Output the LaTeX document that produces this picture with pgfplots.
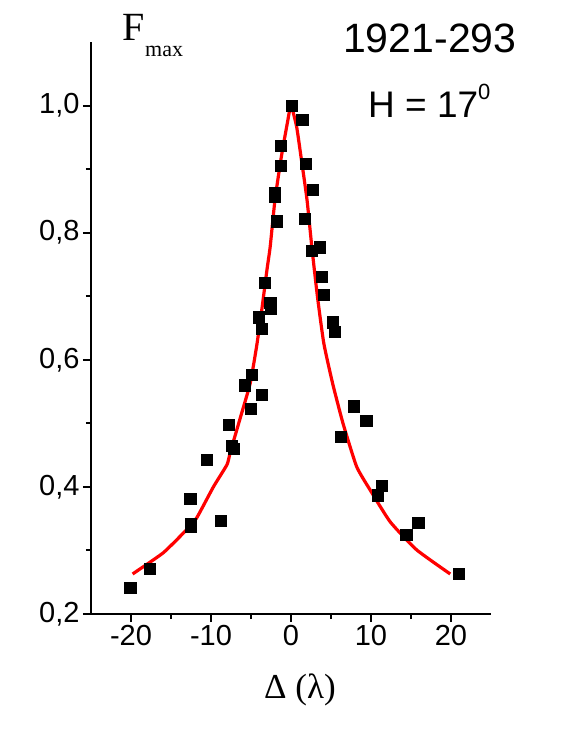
\documentclass[border=0pt]{standalone}
\usepackage{fontspec}
\setmainfont{Liberation Sans}
\newfontfamily\seriffont{Liberation Serif}
\usepackage{pgfplots}
\pgfplotsset{compat=1.18}
\begin{document}
\begin{tikzpicture}
\useasboundingbox (-91pt,-126pt) rectangle (481pt,614pt);
\begin{axis}[
  at={(0pt,0pt)}, anchor=south west,
  scale only axis, width=400pt, height=572pt,
  xmin=-25, xmax=25, ymin=0.2, ymax=1.1,
  axis lines=left,
  axis line style={-, line width=2.6pt},
  tick align=outside,
  major tick length=8pt, minor tick length=5pt,
  tick style={line width=2pt, black},
  minor x tick num=1, minor y tick num=1,
  xtick={-20,-10,0,10,20},
  xticklabels={-20,-10,0,10,20},
  ytick={0.2,0.4,0.6,0.8,1.0},
  yticklabels={{0,2},{0,4},{0,6},{0,8},{1,0}},
  tick label style={font=\fontsize{29}{30}\selectfont},
  clip=false,
]
\addplot[red, line width=3.2pt, smooth, tension=0.3] coordinates {
(-19.8,0.263) (-16,0.296) (-13.25,0.330) (-11.8,0.351) (-9.7,0.400)
(-8,0.435) (-7.6,0.454) (-6.4,0.506) (-5.1,0.563) (-4.3,0.621)
(-3.7,0.674) (-3.0,0.742) (-2.6,0.778) (-2.0,0.852) (-1.2,0.920)
(-0.45,0.973) (0,1.0) (0.7,0.967) (1.3,0.915) (2.0,0.852) (2.6,0.778)
(3.3,0.700) (4.1,0.626) (5.2,0.563) (6.5,0.500) (8.2,0.432) (9.9,0.395)
(12.4,0.345) (15.7,0.301) (19.9,0.263)
};
\addplot[only marks, mark=square*, mark size=5.6pt, mark options={black, fill=black}] coordinates {
(-20.1,0.242) (-17.7,0.271) (-12.6,0.381) (-12.5,0.342) (-12.5,0.337)
(-8.8,0.347) (-10.5,0.443) (-7.8,0.498) (-7.4,0.465) (-7.2,0.460)
(-5.0,0.523) (-4.9,0.577) (-5.8,0.560) (-3.7,0.545) (-3.7,0.649)
(-4.0,0.667) (-2.6,0.690) (-2.5,0.680) (-3.3,0.721) (-2.0,0.862)
(-2.0,0.856) (-1.8,0.818) (-1.3,0.937) (-1.3,0.905) (0.1,1.000)
(1.4,0.978) (1.8,0.909) (2.7,0.868) (1.75,0.822) (3.6,0.777)
(2.6,0.772) (3.8,0.731) (4.1,0.702) (5.2,0.659) (5.5,0.644)
(7.8,0.527) (9.4,0.504) (6.2,0.479) (11.3,0.402) (10.8,0.387)
(15.9,0.344) (14.4,0.325) (21.0,0.263)
};
\end{axis}
\node[anchor=base west, inner sep=0pt, font=\fontsize{41}{41}\selectfont] at (252pt,561pt) {1921-293};
\node[anchor=base west, inner sep=0pt, font=\fontsize{37}{37}\selectfont] at (277pt,496pt) {H = 17\raisebox{18pt}{\fontsize{22}{22}\selectfont 0}};
\node[anchor=base west, inner sep=0pt, font=\seriffont\fontsize{40}{40}\selectfont] at (31pt,573pt) {F};
\node[anchor=base west, inner sep=0pt, font=\seriffont\fontsize{22}{22}\selectfont] at (54pt,557pt) {max};
\node[anchor=base, inner sep=0pt, font=\seriffont\fontsize{35}{35}\selectfont] at (209pt,-84pt) {Δ (λ)};
\end{tikzpicture}
\end{document}
